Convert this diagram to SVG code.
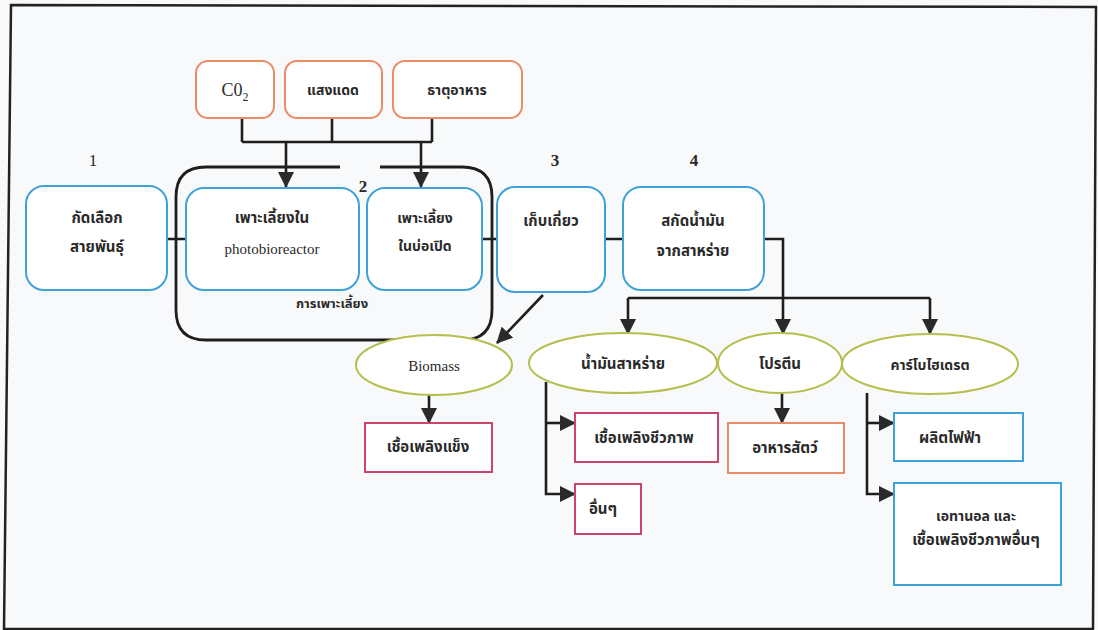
<svg xmlns="http://www.w3.org/2000/svg" width="1098" height="630" viewBox="0 0 1098 630">
<style>
text{font-family:"Noto Sans Thai","Liberation Serif","DejaVu Serif",serif;font-size:15px;fill:#2a2a2a;text-anchor:middle}
.th{font-weight:bold;font-size:15px}
.lat{font-family:"Liberation Serif",serif;font-size:16px}
.blue{fill:#fff;stroke:#3fa2d6;stroke-width:2}
.org{fill:#fff;stroke:#ea8d66;stroke-width:2}
.red{fill:#fff;stroke:#c9456a;stroke-width:2}
.ell{fill:#fff;stroke:#b6be4e;stroke-width:2}
.ln{fill:none;stroke:#1e1e1e;stroke-width:2.6}
</style>
<defs>
<marker id="ah" markerUnits="userSpaceOnUse" markerWidth="16" markerHeight="16" viewBox="0 0 16 16" refX="15" refY="8" orient="auto">
<path d="M0,0 L16,8 L0,16 Z" fill="#2a2a2a"/>
</marker>
</defs>
<rect x="0" y="0" width="1098" height="630" fill="#f8f9fb"/>
<path d="M11,5 L1096,7 L1093,629 L4,629 Z" fill="none" stroke="#222" stroke-width="2.5"/>

<g id="container">
<path d="M340,167 L206,167 Q176,167 176,197 L176,310 Q176,340 206,340 L462,340 Q492,340 492,310 L492,197 Q492,167 462,167 L380,167" fill="none" stroke="#1e1e1e" stroke-width="2.8"/>
<text x="332" y="308" class="th" style="font-size:13px">การเพาะเลี้ยง</text>
<text x="363" y="192" class="lat" style="font-weight:bold;font-size:17px">2</text>
</g>

<g id="labels">
<text x="93" y="166" class="lat" style="font-size:17px">1</text>
<text x="555" y="166" class="lat" style="font-weight:bold;font-size:17px">3</text>
<text x="694" y="166" class="lat" style="font-weight:bold;font-size:17px">4</text>
</g>

<g id="connectors">
<path class="ln" d="M242,118 V142 M332,118 V142 M432,118 V142 M242,142 H432"/>
<path class="ln" d="M286,142 V187" marker-end="url(#ah)"/>
<path class="ln" d="M421,142 V187" marker-end="url(#ah)"/>
<path class="ln" d="M167,239 H186 M480,239 H497 M605,239 H623"/>
<path class="ln" d="M764,239 H783 V334" marker-end="url(#ah)"/>
<path class="ln" d="M628,298 H930"/>
<path class="ln" d="M628,298 V334" marker-end="url(#ah)"/>
<path class="ln" d="M930,298 V334" marker-end="url(#ah)"/>
<path class="ln" d="M543,295 L497,343" marker-end="url(#ah)"/>
<path class="ln" d="M429,395 V423" marker-end="url(#ah)"/>
<path class="ln" d="M546,382 V494 H575" marker-end="url(#ah)"/>
<path class="ln" d="M546,423 H575" marker-end="url(#ah)"/>
<path class="ln" d="M782,393 V423" marker-end="url(#ah)"/>
<path class="ln" d="M867,393 V494 H894" marker-end="url(#ah)"/>
<path class="ln" d="M867,423 H894" marker-end="url(#ah)"/>
</g>

<g id="co2"><rect class="org" x="196" y="61" width="78" height="57" rx="12"/><text x="235" y="96" class="lat" style="font-size:18px">C0<tspan dy="5" style="font-size:12px">2</tspan></text></g>
<g id="sunlight"><rect class="org" x="285" y="61" width="97" height="57" rx="12"/><text x="333" y="95" class="th" style="font-size:14px">แสงแดด</text></g>
<g id="nutrients"><rect class="org" x="393" y="61" width="129" height="57" rx="12"/><text x="457" y="95" class="th" style="font-size:14px">ธาตุอาหาร</text></g>

<g id="select"><rect class="blue" x="26" y="186" width="141" height="104" rx="18"/><text x="97" y="223" class="th">กัดเลือก</text><text x="97" y="252" class="th">สายพันธุ์</text></g>
<g id="pbr"><rect class="blue" x="186" y="188" width="173" height="102" rx="18"/><text x="272" y="223" class="th">เพาะเลี้ยงใน</text><text x="272" y="254" class="lat" style="font-size:15px">photobioreactor</text></g>
<g id="pond"><rect class="blue" x="367" y="188" width="115" height="102" rx="18"/><text x="425" y="223" class="th" style="font-size:14px">เพาะเลี้ยง</text><text x="425" y="251" class="th" style="font-size:14px">ในบ่อเปิด</text></g>
<g id="harvest"><rect class="blue" x="497" y="187" width="108" height="105" rx="18"/><text x="551" y="226" class="th">เก็บเกี่ยว</text></g>
<g id="extract"><rect class="blue" x="623" y="187" width="141" height="103" rx="18"/><text x="693" y="226" class="th">สกัดน้ำมัน</text><text x="693" y="256" class="th">จากสาหร่าย</text></g>

<g id="biomass"><ellipse class="ell" cx="434" cy="365" rx="78" ry="30"/><text x="434" y="371" class="lat" style="font-size:15px">Biomass</text></g>
<g id="oil"><ellipse class="ell" cx="623" cy="363" rx="94" ry="30"/><text x="623" y="369" class="th">น้ำมันสาหร่าย</text></g>
<g id="protein"><ellipse class="ell" cx="780" cy="363" rx="62" ry="30"/><text x="780" y="369" class="th">โปรตีน</text></g>
<g id="carb"><ellipse class="ell" cx="930" cy="364" rx="88" ry="30"/><text x="930" y="370" class="th" style="font-size:14px">คาร์โบไฮเดรต</text></g>

<g id="solidfuel"><rect class="red" x="365" y="423" width="127" height="49"/><text x="428" y="452" class="th">เชื้อเพลิงแข็ง</text></g>
<g id="biofuel"><rect class="red" x="575" y="413" width="143" height="49"/><text x="644" y="443" class="th">เชื้อเพลิงชีวภาพ</text></g>
<g id="others"><rect class="red" x="575" y="484" width="66" height="50"/><text x="603" y="514" class="th">อื่นๆ</text></g>
<g id="feed"><rect class="org" x="728" y="423" width="116" height="50"/><text x="785" y="453" class="th">อาหารสัตว์</text></g>
<g id="power"><rect class="blue" x="894" y="413" width="129" height="48"/><text x="950" y="443" class="th">ผลิตไฟฟ้า</text></g>
<g id="ethanol"><rect class="blue" x="894" y="483" width="167" height="102"/><text x="976" y="521" class="th" style="font-size:14px">เอทานอล และ</text><text x="976" y="545" class="th">เชื้อเพลิงชีวภาพอื่นๆ</text></g>
</svg>
